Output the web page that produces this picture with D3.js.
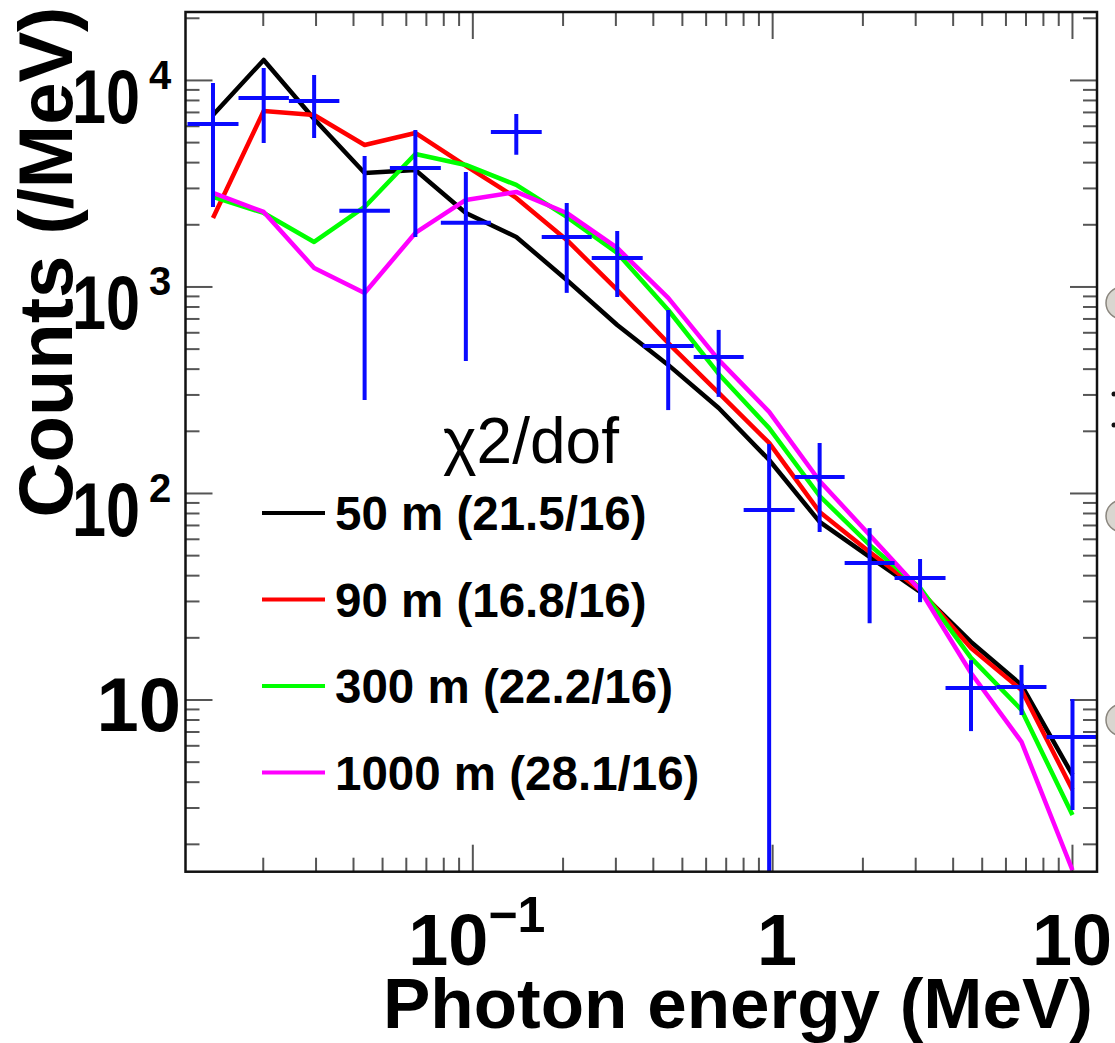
<!DOCTYPE html>
<html>
<head>
<meta charset="utf-8">
<script src="https://cdn.jsdelivr.net/npm/d3@7"></script>
<style>
body { margin: 0; background: #fff; }
text { font-family: "Liberation Sans", Arial, Helvetica, sans-serif; }
</style>
</head>
<body>
<svg id="chart" width="1115" height="1043"></svg>
<script>
// energy bin edges (MeV), 18 bins
var binEdges = [0.01122, 0.0166, 0.02445, 0.03602, 0.05309, 0.07852, 0.1153, 0.1704, 0.2502,
    0.3701, 0.5474, 0.8035, 1.1885, 1.745, 2.561, 3.787, 5.602, 8.222, 12.26];

// measured spectrum (counts/MeV) with error bar limits
var dataCounts  = [6120, 8185, 7910, 2323, 3748, 2037, 5597, 1738, 1374, 515, 456, 82.8, 119.5, 45.8, 38.7, 11.37, 11.5, 6.58];
var dataErrHigh = [9670, 11430, 10570, 4284, 5728, 3584, 6845, 2535, 1858, 769, 616, 172.6, 174.6, 67.6, 47.9, 15.5, 14.7, 10.05];
var dataErrLow  = [2427, 4955, 5238, 282, 1738, 435, 4338, 931, 889, 252, 292, 0.5, 64.7, 23.4, 29.6, 7.03, 8.41, 2.92];

// simulated spectra for each source altitude
var fit50   = [6768, 12500, 6474, 3545, 3666, 2269, 1737, 1075, 651, 417, 258, 144.5, 72.4, 49.0, 33.2, 19.0, 11.75, 4.31];
var fit90   = [2147, 7076, 6768, 4844, 5538, 3832, 2683, 1680, 962, 532, 305, 174.7, 80.9, 51.8, 33.9, 17.76, 11.12, 3.65];
var fit300  = [2713, 2269, 1643, 2427, 4382, 3876, 3101, 2171, 1453, 769, 377, 206, 96.7, 56.0, 34.7, 15.9, 8.90, 2.76];
var fit1000 = [2837, 2295, 1229, 930, 1816, 2624, 2869, 2269, 1536, 880, 441, 247, 114.3, 62.6, 33.9, 13.44, 6.23, 1.49];

var seriesNames  = ["50 m (21.5/16)", "90 m (16.8/16)", "300 m (22.2/16)", "1000 m (28.1/16)"];
var seriesColors = ["#000000", "#ff0000", "#00ff00", "#ff00ff"];

var xLabelValues = [0.1, 1, 10];
var xLabelBases  = ["10", "1", "10"];
var xLabelExps   = ["\u22121", "", ""];
var yLabelValues = [1e4, 1e3, 1e2, 10];
var yLabelExps   = ["4", "3", "2", ""];

var plot = {left: 185.5, top: 12, right: 1097, bottom: 871.7};

var svg = d3.select("#chart");

var x = d3.scaleLog()
    .domain([0.01105, 12.12])
    .range([plot.left, plot.right]);

var y = d3.scaleLog()
    .domain([1.466, 21330])
    .range([plot.bottom, plot.top]);

function logTicks(scale) {
    var dom = scale.domain(), major = [], minor = [];
    for (var e = -3; e <= 5; e++) {
        for (var m = 1; m <= 9; m++) {
            var v = m * Math.pow(10, e);
            if (v < dom[0] || v > dom[1]) continue;
            (m === 1 ? major : minor).push(v);
        }
    }
    return {major: major, minor: minor};
}

var xt = logTicks(x), yt = logTicks(y);

function drawAxis(axis, tx, ty) {
    var g = svg.append("g")
        .attr("transform", "translate(" + tx + "," + ty + ")")
        .call(axis);
    g.select(".domain").remove();
    g.selectAll(".tick line").attr("stroke", "#555").attr("stroke-width", 2);
}

[[xt.major, 27], [xt.minor, 14]].forEach(function(t) {
    drawAxis(d3.axisBottom(x).tickValues(t[0]).tickSize(-t[1]).tickFormat(""), 0, plot.bottom);
    drawAxis(d3.axisTop(x).tickValues(t[0]).tickSize(-t[1]).tickFormat(""), 0, plot.top);
});
[[yt.major, 27], [yt.minor, 14]].forEach(function(t) {
    drawAxis(d3.axisLeft(y).tickValues(t[0]).tickSize(-t[1]).tickFormat(""), plot.left, 0);
    drawAxis(d3.axisRight(y).tickValues(t[0]).tickSize(-t[1]).tickFormat(""), plot.right, 0);
});

svg.append("clipPath").attr("id", "clip")
    .append("rect")
    .attr("x", plot.left).attr("y", plot.top)
    .attr("width", plot.right - plot.left).attr("height", plot.bottom - plot.top);

var area = svg.append("g").attr("clip-path", "url(#clip)");

var centers = d3.range(dataCounts.length).map(function(i) {
    return Math.sqrt(binEdges[i] * binEdges[i + 1]);
});

var line = d3.line()
    .x(function(d, i) { return x(centers[i]); })
    .y(function(d) { return y(d); });

[fit50, fit90, fit300, fit1000].forEach(function(s, k) {
    area.append("path")
        .attr("d", line(s))
        .attr("fill", "none")
        .attr("stroke", seriesColors[k])
        .attr("stroke-width", 4.5)
        .attr("stroke-linejoin", "round");
});

// data crosses: bin width horizontally, error bar vertically
var cross = area.selectAll(".cross")
    .data(dataCounts)
    .enter().append("g")
    .attr("class", "cross")
    .attr("stroke", "#0a0aff")
    .attr("stroke-width", 4);

cross.append("line")
    .attr("x1", function(d, i) { return x(binEdges[i]); })
    .attr("x2", function(d, i) { return x(binEdges[i + 1]); })
    .attr("y1", function(d) { return y(d); })
    .attr("y2", function(d) { return y(d); });

cross.append("line")
    .attr("x1", function(d, i) { return x(centers[i]); })
    .attr("x2", function(d, i) { return x(centers[i]); })
    .attr("y1", function(d, i) { return y(dataErrHigh[i]); })
    .attr("y2", function(d, i) { return y(Math.max(dataErrLow[i], 0.5)); });

svg.append("rect")
    .attr("x", plot.left).attr("y", plot.top)
    .attr("width", plot.right - plot.left).attr("height", plot.bottom - plot.top)
    .attr("fill", "none")
    .attr("stroke", "#111")
    .attr("stroke-width", 2.5);

// y tick labels
yLabelValues.forEach(function(v, i) {
    if (yLabelExps[i]) {
        svg.append("text")
            .attr("x", 72).attr("y", y(v) + 43)
            .attr("font-size", 76).attr("font-weight", "bold")
            .attr("textLength", 68).attr("lengthAdjust", "spacingAndGlyphs")
            .text("10");
        svg.append("text")
            .attr("x", 149).attr("y", y(v) + 9)
            .attr("font-size", 40).attr("font-weight", "bold")
            .text(yLabelExps[i]);
    } else {
        svg.append("text")
            .attr("x", 181).attr("y", y(v) + 31.5)
            .attr("text-anchor", "end")
            .attr("font-size", 76).attr("font-weight", "bold")
            .text("10");
    }
});

// x tick labels
xLabelValues.forEach(function(v, i) {
    var t = svg.append("text")
        .attr("y", 965)
        .attr("font-size", 72).attr("font-weight", "bold");
    if (xLabelExps[i]) {
        t.attr("x", x(v) - 64);
        t.append("tspan").text(xLabelBases[i]);
        t.append("tspan").attr("font-size", 50).attr("dy", -33).text(xLabelExps[i]);
    } else if (xLabelBases[i] === "1") {
        t.attr("x", x(v) + 5).attr("text-anchor", "middle").text(xLabelBases[i]);
    } else {
        t.attr("x", x(v) - 40).text(xLabelBases[i]);
    }
});

svg.append("text")
    .attr("x", 1093).attr("y", 1028)
    .attr("text-anchor", "end")
    .attr("font-size", 71).attr("font-weight", "bold")
    .text("Photon energy (MeV)");

svg.append("text")
    .attr("transform", "translate(72,262) rotate(-90)")
    .attr("text-anchor", "middle")
    .attr("font-size", 76).attr("font-weight", "bold")
    .text("Counts (/MeV)");

// legend
svg.append("text")
    .attr("x", 443).attr("y", 463)
    .attr("font-size", 64)
    .text("\u03c72/dof");

var legend = svg.selectAll(".legend")
    .data(seriesNames)
    .enter().append("g")
    .attr("class", "legend")
    .attr("transform", function(d, i) { return "translate(0," + (513 + i * 86.5) + ")"; });

legend.append("line")
    .attr("x1", 262).attr("x2", 325)
    .attr("stroke", function(d, i) { return seriesColors[i]; })
    .attr("stroke-width", 4);

legend.append("text")
    .attr("x", 335).attr("y", 17)
    .attr("font-size", 47.5).attr("font-weight", "bold")
    .text(function(d) { return d; });

// bullet fragments from the neighbouring slide, cut by the right edge
[303, 516, 720].forEach(function(cy) {
    svg.append("circle")
        .attr("cx", 1122).attr("cy", cy).attr("r", 16)
        .attr("fill", "#d9d6d0").attr("stroke", "#8a867e").attr("stroke-width", 1.5);
});
[394, 425].forEach(function(cy) {
    svg.append("circle")
        .attr("cx", 1114).attr("cy", cy).attr("r", 2.5).attr("fill", "#111");
});
</script>
</body>
</html>
